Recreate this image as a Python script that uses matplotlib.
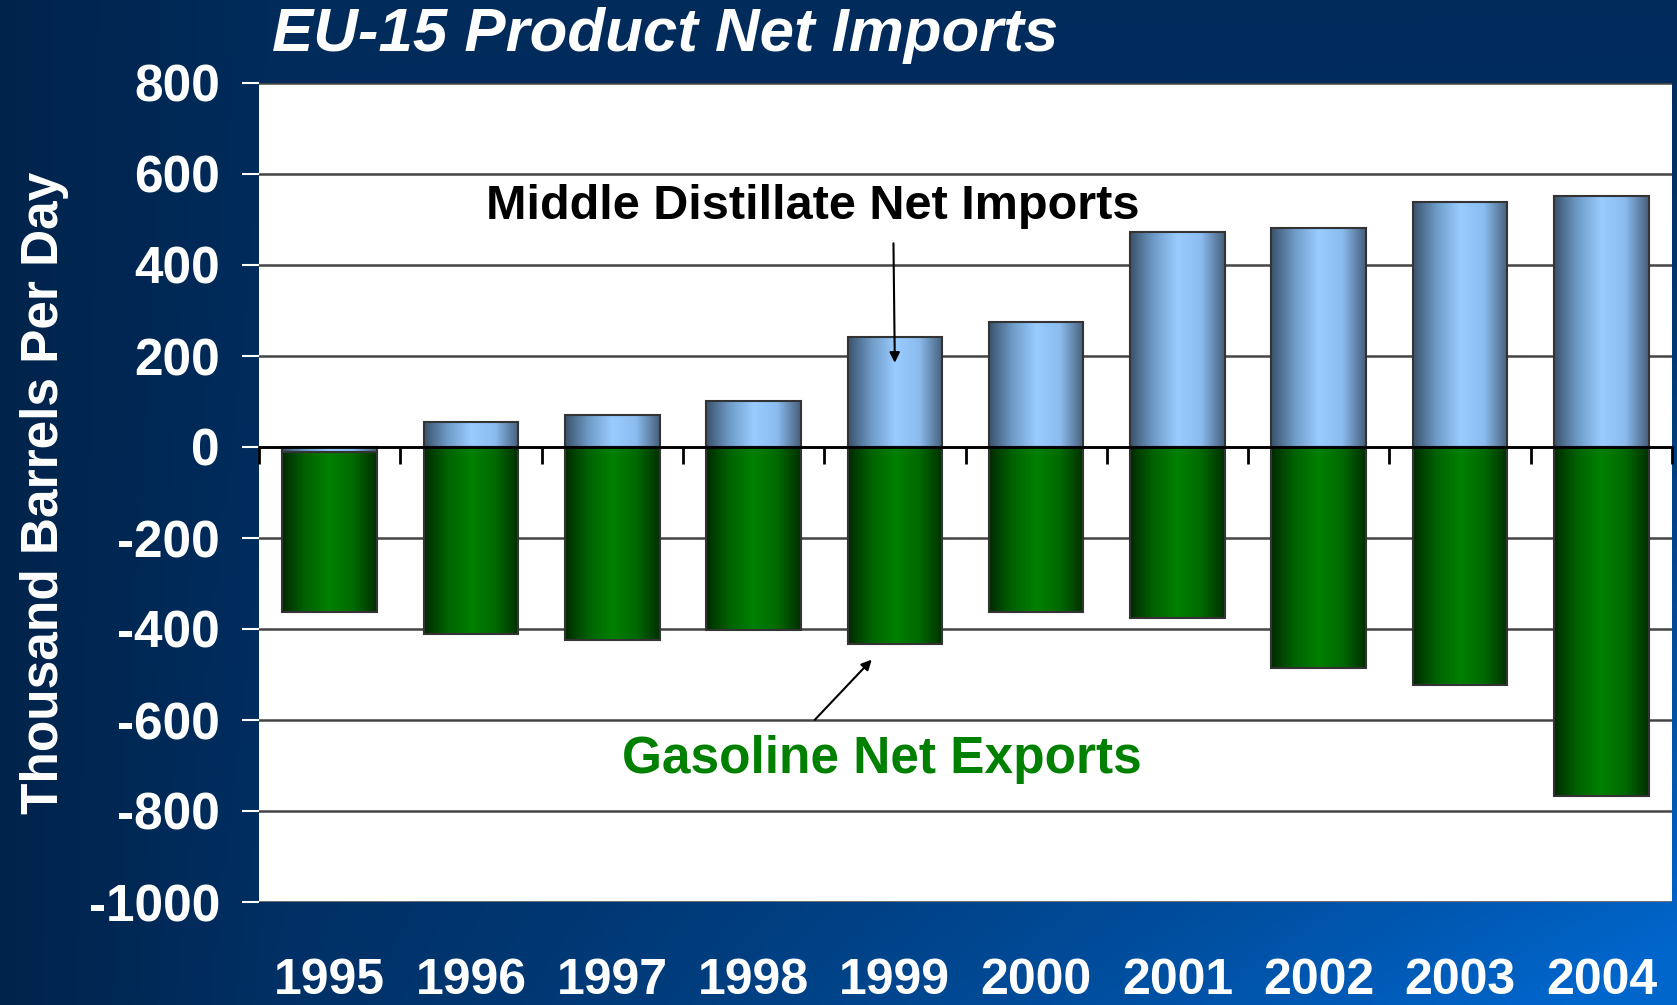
import numpy as np
import matplotlib
matplotlib.use("Agg")
import matplotlib.pyplot as plt
from matplotlib.colors import LinearSegmentedColormap

plt.rcParams['font.family'] = ['Liberation Sans', 'DejaVu Sans']
plt.rcParams['axes.unicode_minus'] = False

years = ["1995", "1996", "1997", "1998", "1999", "2000", "2001", "2002", "2003", "2004"]
distillate = [-12, 54, 70, 101, 242, 275, 472, 482, 538, 552]
gasoline = [-350, -411, -425, -402, -432, -362, -376, -486, -524, -768]
yticks = [800, 600, 400, 200, 0, -200, -400, -600, -800, -1000]

fig = plt.figure(figsize=(16.77, 10.05), dpi=100)

# background gradient (navy -> bright blue at bottom right)
bg = fig.add_axes([0, 0, 1, 1], zorder=-10)
gx, gy = np.meshgrid(np.linspace(0, 1, 400), np.linspace(0, 1, 240))
f = np.clip(gx ** 1.4 * gy ** 1.6 * 1.1, 0, 1)
dark = np.array([0.0, 0.17, 0.36])
bright = np.array([0.0, 0.40, 0.80])
img = dark[None, None, :] * (1 - f[..., None]) + bright[None, None, :] * f[..., None]
img *= (0.82 + 0.18 * np.clip(gx * 6, 0, 1))[..., None]
bg.imshow(img, aspect='auto', extent=[0, 1, 1, 0])
bg.axis('off')

ax = fig.add_axes([259 / 1677, 1 - 902 / 1005, 1413 / 1677, 819 / 1005])
ax.set_facecolor('white')

x = np.arange(len(years))
bw = 0.67
blue_cmap = LinearSegmentedColormap.from_list('b', ['#3b536d', '#6f9cc8', '#99ccff', '#8cbcef', '#46607c'])
green_cmap = LinearSegmentedColormap.from_list('g', ['#002a00', '#006400', '#008000', '#006a00', '#003000'])
grad = np.linspace(0, 1, 200)[None, :]

gas_bottom = [min(d, 0) for d in distillate]
b1 = ax.bar(x, distillate, bw, color='none', edgecolor='#333333', linewidth=1.5, zorder=3)
b2 = ax.bar(x, gasoline, bw, bottom=gas_bottom, color='none', edgecolor='#333333', linewidth=1.5, zorder=3)

for bars, cmap in ((b1, blue_cmap), (b2, green_cmap)):
    for p in bars:
        x0, y0 = p.get_x(), p.get_y()
        w, h = p.get_width(), p.get_height()
        im = ax.imshow(grad, cmap=cmap, aspect='auto', extent=[x0, x0 + w, y0, y0 + h],
                       origin='lower', zorder=2, interpolation='bilinear')
        im.set_clip_path(p)

ax.set_xlim(-0.5, len(years) - 0.5)
ax.set_ylim(-1000, 800)
ax.set_yticks(yticks)
ax.yaxis.grid(True, color='#444444', linewidth=1.8)
ax.set_axisbelow(True)
ax.tick_params(axis='y', colors='white', length=12, width=1.5, labelsize=37, pad=16)
for lab in ax.get_yticklabels():
    lab.set_fontweight('bold')

# x axis on the zero line with ticks at category boundaries
ax.spines['bottom'].set_position(('data', 0))
ax.spines['bottom'].set_linewidth(2)
ax.spines['bottom'].set_zorder(4)
for s in ('top', 'right', 'left'):
    ax.spines[s].set_visible(False)
ax.set_xticks(np.arange(len(years) + 1) - 0.5)
ax.set_xticklabels([])
ax.tick_params(axis='x', direction='out', length=12, width=2, color='black')
for i, yr in enumerate(years):
    ax.text(x[i], -0.096, yr, transform=ax.get_xaxis_transform(), ha='center', va='center',
            color='white', fontsize=36, fontweight='bold')

ax.set_ylabel('Thousand Barrels Per Day', color='white', fontsize=37, fontweight='bold', labelpad=14)

fig.text(272 / 1677, 1 - 35 / 1005, 'EU-15 Product Net Imports', color='white', fontsize=44.5,
         fontweight='bold', fontstyle='italic', va='center', ha='left')

ax.annotate('', xy=(4.0, 179), xytext=(3.99, 454),
            arrowprops=dict(arrowstyle='-|>', color='black', lw=1.5, mutation_scale=15), zorder=5)
ax.text(3.42, 529, 'Middle Distillate Net Imports', ha='center', va='center', fontsize=35,
        fontweight='bold', color='black', zorder=5)
ax.annotate('', xy=(3.85, -463), xytext=(3.42, -604),
            arrowprops=dict(arrowstyle='-|>', color='black', lw=1.5, mutation_scale=15), zorder=5)
ax.text(3.91, -686, 'Gasoline Net Exports', ha='center', va='center', fontsize=37,
        fontweight='bold', color='#008000', zorder=5)

fig.savefig('out.png', dpi=100)
